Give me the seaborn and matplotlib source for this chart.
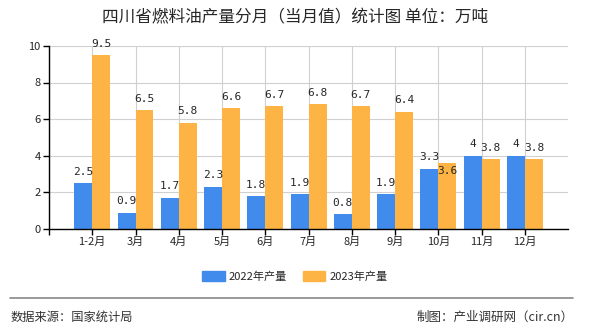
import matplotlib
matplotlib.use("Agg")
import matplotlib.pyplot as plt
import seaborn as sns
import pandas as pd

months = ["1-2月", "3月", "4月", "5月", "6月", "7月", "8月", "9月", "10月", "11月", "12月"]
v2022 = [2.5, 0.9, 1.7, 2.3, 1.8, 1.9, 0.8, 1.9, 3.3, 4, 4]
v2023 = [9.5, 6.5, 5.8, 6.6, 6.7, 6.8, 6.7, 6.4, 3.6, 3.8, 3.8]
series = ["2022年产量", "2023年产量"]
lab2022 = ["2.5", "0.9", "1.7", "2.3", "1.8", "1.9", "0.8", "1.9", "3.3", "4", "4"]
lab2023 = ["9.5", "6.5", "5.8", "6.6", "6.7", "6.8", "6.7", "6.4", "3.6", "3.8", "3.8"]

df = pd.DataFrame({
    "month": months * 2,
    "value": v2022 + v2023,
    "series": [series[0]] * len(months) + [series[1]] * len(months),
})

sns.set_theme(style="white")
plt.rcParams["font.family"] = ["Noto Sans CJK SC", "DejaVu Sans"]

fig = plt.figure(figsize=(5.9, 3.3), dpi=100)
ax = fig.add_axes([0.083, 0.306, 0.88, 0.555])
colors = ["#418bed", "#fdb445"]
sns.barplot(data=df, x="month", y="value", hue="series", hue_order=series,
            palette=colors, width=0.83, saturation=1, ax=ax, legend=False,
            linewidth=0, edgecolor="none")

ax.set_xlim(-1, 11)
ax.set_ylim(0, 10)
ax.set_yticks([0, 2, 4, 6, 8, 10])
ax.set_xticks(range(-1, 11))
ax.set_xticklabels([""] + months)
ax.set_xlabel("")
ax.set_ylabel("")
ax.tick_params(axis="both", labelsize=8, length=4, width=1, color="black",
               direction="out", bottom=True, left=True, pad=2)
ax.grid(True, color="#d0d0d0", linewidth=0.8)
ax.set_axisbelow(True)
for s in ["top", "right"]:
    ax.spines[s].set_visible(False)
for s in ["left", "bottom"]:
    ax.spines[s].set_color("black")
    ax.spines[s].set_linewidth(1)

# value labels
cont22, cont23 = ax.containers[0], ax.containers[1]
for bar, t in zip(cont22, lab2022):
    ax.text(bar.get_x() + bar.get_width() / 2, bar.get_height() + 0.35, t,
            ha="center", va="bottom", fontsize=8, family="DejaVu Sans Mono")
for i, (bar, t) in enumerate(zip(cont23, lab2023)):
    y = bar.get_height() + 0.35
    va = "bottom"
    if months[i] == "10月":
        y = bar.get_height() - 0.15
        va = "top"
    ax.text(bar.get_x() + bar.get_width() / 2, y, t,
            ha="center", va=va, fontsize=8, family="DejaVu Sans Mono")

fig.text(0.5, 0.945, "四川省燃料油产量分月（当月值）统计图 单位：万吨",
         ha="center", va="center", fontsize=12)

handles = [plt.Rectangle((0, 0), 1, 1, color=c) for c in colors]
fig.legend(handles, series, loc="center", bbox_to_anchor=(0.5, 0.162), ncol=2,
           frameon=False, fontsize=8, handlelength=2.0, handleheight=0.9,
           columnspacing=1.4, handletextpad=0.4)

fig.add_artist(plt.Line2D([0.017, 0.972], [0.097, 0.097], color="#888888", linewidth=1.2))
fig.text(0.017, 0.04, "数据来源：国家统计局", ha="left", va="center", fontsize=8.8, color="#333333")
fig.text(0.972, 0.04, "制图：产业调研网（cir.cn）", ha="right", va="center", fontsize=9, color="#333333")

fig.savefig("out.png", dpi=100)
